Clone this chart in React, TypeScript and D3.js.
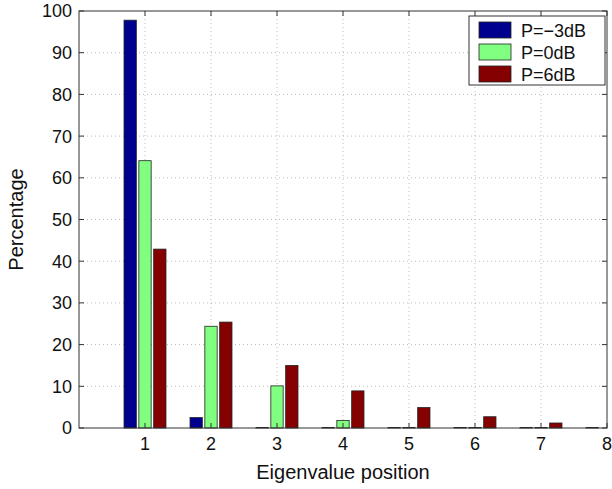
import * as d3 from 'd3';

const positions = [1, 2, 3, 4, 5, 6, 7, 8];
const seriesNames = ['P=\u22123dB', 'P=0dB', 'P=6dB'];
const pMinus3 = [97.8, 2.5, 0.1, 0.1, 0.1, 0.1, 0.1, 0.1];
const p0 = [64.1, 24.4, 10.1, 1.8, 0.1, 0.1, 0.1, 0];
const p6 = [42.9, 25.4, 15.0, 8.9, 4.9, 2.7, 1.2, 0];
const xTicks = [1, 2, 3, 4, 5, 6, 7, 8];
const yTicks = [0, 10, 20, 30, 40, 50, 60, 70, 80, 90, 100];

const colors = ['#00008f', '#80ff80', '#850000'];
const seriesValues = [pMinus3, p0, p6];

const W = 612;
const H = 489;
const margin = { top: 11, right: 5, bottom: 61, left: 79 };
const font = 'Liberation Sans, Arial, Helvetica, sans-serif';

export default function App() {
  const x = d3.scaleLinear().domain([0, 8]).range([margin.left, W - margin.right]);
  const y = d3.scaleLinear().domain([0, 100]).range([H - margin.bottom, margin.top]);
  const unit = x(1) - x(0);
  const inner = d3.scaleBand<number>()
    .domain([0, 1, 2])
    .range([-unit * 0.318, unit * 0.318])
    .paddingInner(0.17);

  const left = x(0), right = x(8), top = y(100), bottom = y(0);
  const tickLen = 5;

  const bars = seriesValues.flatMap((vals, s) =>
    vals.map((v, i) => ({ s, pos: positions[i], v }))
  ).filter((d) => d.v > 0);

  return (
    <div style={{ position: 'fixed', left: 0, top: 0 }}>
      <svg width={W} height={H} style={{ display: 'block', background: '#fff' }}>
        {/* grid */}
        {xTicks.filter((t) => t < 8).map((t) => (
          <line key={'gx' + t} x1={x(t)} x2={x(t)} y1={top} y2={bottom}
            stroke="#bbb" strokeDasharray="1,3" />
        ))}
        {yTicks.filter((t) => t > 0 && t < 100).map((t) => (
          <line key={'gy' + t} x1={left} x2={right} y1={y(t)} y2={y(t)}
            stroke="#bbb" strokeDasharray="1,3" />
        ))}

        {/* bars */}
        {bars.map((d, i) => (
          <rect key={i}
            x={x(d.pos) + (inner(d.s) as number)}
            y={y(d.v)}
            width={inner.bandwidth()}
            height={y(0) - y(d.v)}
            fill={colors[d.s]}
            stroke="#222"
            strokeWidth={0.8} />
        ))}

        {/* axes box */}
        <rect x={left} y={top} width={right - left} height={bottom - top}
          fill="none" stroke="#333" strokeWidth={1} />
        {xTicks.map((t) => (
          <g key={'tx' + t}>
            <line x1={x(t)} x2={x(t)} y1={bottom} y2={bottom - tickLen} stroke="#333" />
            <line x1={x(t)} x2={x(t)} y1={top} y2={top + tickLen} stroke="#333" />
            <text x={x(t)} y={450} textAnchor="middle" fontFamily={font} fontSize={18} fill="#111">{t}</text>
          </g>
        ))}
        {yTicks.map((t) => (
          <g key={'ty' + t}>
            <line x1={left} x2={left + tickLen} y1={y(t)} y2={y(t)} stroke="#333" />
            <line x1={right} x2={right - tickLen} y1={y(t)} y2={y(t)} stroke="#333" />
            <text x={left - 7} y={y(t)} dy="0.36em" textAnchor="end" fontFamily={font} fontSize={18} fill="#111">{t}</text>
          </g>
        ))}

        {/* axis labels */}
        <text x={(left + right) / 2} y={479} textAnchor="middle" fontFamily={font} fontSize={20} fill="#111">
          Eigenvalue position
        </text>
        <text transform={`translate(23,${(top + bottom) / 2}) rotate(-90)`} textAnchor="middle"
          fontFamily={font} fontSize={20} fill="#111">
          Percentage
        </text>

        {/* legend */}
        <g transform="translate(469,16)">
          <rect x={0} y={0} width={136} height={69} fill="#fff" stroke="#333" />
          {seriesNames.map((name, i) => (
            <g key={name} transform={`translate(0,${i * 22})`}>
              <rect x={10} y={6} width={32} height={16} fill={colors[i]} stroke="#222" strokeWidth={0.8} />
              <text x={52} y={20.5} fontFamily={font} fontSize={18} fill="#111">{name}</text>
            </g>
          ))}
        </g>
      </svg>
    </div>
  );
}
